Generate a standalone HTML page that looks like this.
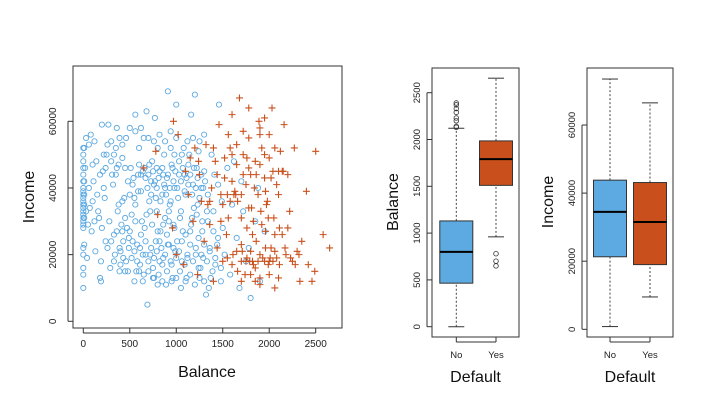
<!DOCTYPE html>
<html><head><meta charset="utf-8"><style>
body{margin:0;background:#fff;}
svg{display:block;font-family:"Liberation Sans",sans-serif;}
</style></head><body>
<svg id="fig" width="704" height="412" viewBox="0 0 704 412"></svg>
<script>
// ---- data ----
const blueBalance=[0,0,0,0,0,0,0,0,0,0,0,0,0,0,0,0,0,0,0,0,0,0,0,0,30,60,80,100,120,150,160,180,190,200,210,220,230,240,250,270,280,300,320,340,360,380,400,420,450,470,480,500,40,70,90,110,130,170,190,260,290,310,330,350,370,390,410,430,440,460,490,520,540,560,580,600,610,620,640,650,660,680,690,700,710,720,740,750,760,770,780,790,800,810,820,830,850,860,870,880,890,900,910,920,930,940,950,960,970,980,990,530,550,570,590,630,670,730,760,790,840,880,920,960,600,660,720,780,820,860,900,940,980,1000,1010,1030,1050,1060,1080,1100,1110,1130,1150,1160,1180,1200,1210,1230,1250,1260,1280,1300,1320,1340,1360,1380,1400,1420,1450,1460,1480,1500,1020,1070,1090,1120,1170,1220,1240,1290,1330,1370,1410,1440,1490,1040,1140,1190,1270,1520,1550,1580,1600,1650,1680,1700,1750,1800,1850,1900,1950,1620,1720,1780,1880,
350,380,420,450,480,510,530,560,590,620,640,670,690,710,730,750,770,790,810,830,850,870,890,910,930,950,970,990,1010,1030,1050,1070,1090,1110,1130,1150,1170,1190,1210,1230,1250,1270,1290,1310,
400,430,460,490,520,550,580,610,640,670,700,730,760,790,820,850,880,910,940,970,1000,1030,1060,1090,1120,1150,1180,1210,1240,1270,1300,1330,1360,1390,1420,1450,1480,
300,330,360,390,420,300,330,360,390,420,200,220,240,260,180,140,120,100,60,50,30,20,10,10,10,10,10,10,
500,560,620,700,760,820,880,940,1000,1060,1120,1180,1240,1300,
500,560,620,680,740,800,860,920,980,1040,1100,1160,1220,1280,1340,1400,
1300,1350,1250,1200,1150,1100,1050,1000,950,900,850,800,750,700,650,600,550,450];
const blueIncome=[10,14,16,20,22,28,29,30,31,32,33,34,35,36,37,38,39,40,42,44,46,48,50,52,55,53,56,47,54,38,33,13,12,59,45,40,37,24,50,59,30,48,41,20,58,35,17,53,46,28,15,38,19,34,27,42,21,31,18,22,16,44,26,52,33,22,29,19,37,55,25,32,43,62,18,47,22,39,12,55,28,63,5,44,36,20,48,16,41,61,24,33,52,14,45,27,38,19,50,31,11,43,69,23,35,57,17,46,29,40,21,24,37,15,44,30,20,42,13,46,22,40,30,13,52,46,33,37,18,44,26,36,50,65,24,44,33,18,52,38,13,47,27,62,41,68,20,35,54,16,30,45,8,38,22,50,33,17,41,65,12,28,37,27,44,19,31,46,25,19,33,13,44,23,36,15,50,34,40,20,46,14,35,25,10,42,18,7,30,12,27,48,33,22,40,
44,47,36,31,42,46,41,35,39,44,45,43,40,47,38,45,42,40,43,36,46,41,38,44,40,47,42,45,40,48,42,46,39,43,41,44,38,46,40,43,37,44,40,42,
21,24,18,22,19,21,23,17,20,24,18,22,19,21,24,17,20,23,18,22,19,21,24,17,20,23,18,22,16,20,23,18,21,15,19,25,16,
54,50,46,55,49,24,18,27,15,27,28,50,46,53,44,48,30,36,40,29,33,46,23,52,38,42,31,35,
58,57,58,55,54,56,54,52,55,50,54,55,51,56,
27,30,26,32,29,27,29,33,28,31,26,29,32,27,30,27,
12,10,13,11,14,12,10,13,12,15,12,11,13,15,14,15,12,15];
const orangeBalance=[650,780,800,960,970,1000,1020,1080,1100,1130,1150,1180,1200,1230,1250,1270,1300,1320,1340,1360,1380,1400,1420,1440,1460,1480,1500,1520,1540,1560,1580,1600,1610,1630,1650,1660,1680,1700,1710,1720,1740,1750,1760,1780,1790,1800,1810,1830,1850,1860,1880,1890,1900,1910,1920,1930,1950,1960,1980,1990,2000,2020,2030,2040,2050,2060,2080,2100,2120,2140,2160,2180,2200,2220,2250,2270,2300,2330,2350,2400,2420,2460,2490,2500,2580,2650,1550,1620,1700,1750,1820,1880,1950,2000,1640,1860,2100,1580,1720,1820,1900,2040,2150,1480,1360,1240,1850,1970,2200,
1550,1600,1650,1700,1760,1800,1850,1900,1960,2010,2060,2110,2170,2230,2280,2320,1600,1660,1720,1780,1840,1900,1960,2020,2080,2140,1500,1560,1440,1700,1780,1830,1920,1990,2060,2110,1600,1650,1760,1950,2000,2060,1400,1520,1700,1800,1900,2000,2100,1780,1900,1950];
const orangeIncome=[46,51,32,28,60,20,56,17,45,38,49,30,52,14,44,36,24,53,35,29,40,12,48,22,59,38,18,43,26,56,36,62,20,39,47,15,67,31,21,50,14,41,28,55,18,44,34,17,48,24,38,60,13,33,52,19,43,27,36,17,56,22,64,45,31,10,19,38,51,26,59,20,44,33,18,52,21,12,24,39,17,12,15,51,26,22,38,38,18,18,18,18,18,18,38,44,45,52,57,26,56,18,45,30,36,48,12,35,28,
19,17,21,23,19,21,16,20,22,19,21,17,22,19,17,20,42,36,44,46,40,47,39,43,41,45,35,31,44,38,34,30,29,31,26,28,50,53,49,50,49,52,52,49,12,14,11,14,13,64,58,61];
const categories=["No","Yes"];
// box stats: [lowWhisker, q1, median, q3, highWhisker]
const balanceBoxNo=[0,465,800,1130,2120];
const balanceBoxYes=[960,1510,1790,1985,2655];
const balanceOutNo=[2130,2140,2200,2230,2290,2330,2370,2390];
const balanceOutYes=[650,700,780];
const incomeBoxNo=[800,21300,34500,43800,73500];
const incomeBoxYes=[9500,19000,31500,43100,66500];
const scatterXTicks=[0,500,1000,1500,2000,2500];
const scatterYTicks=[0,20000,40000,60000];
const balanceTicks=[0,500,1000,1500,2000,2500];
const incomeTicks=[0,20000,40000,60000];

const BLUE="#5DA9E1", ORANGE="#C9501C";
const svg=document.getElementById('fig');
const NS="http://www.w3.org/2000/svg";
function el(tag,attrs,parent){const e=document.createElementNS(NS,tag);for(const k in attrs)e.setAttribute(k,attrs[k]);(parent||svg).appendChild(e);return e;}

// ---- scatter ----
const sx=v=>83.3+v*(232.4/2500);
const sy=v=>321.3-v*(200/60000);
const g1=el('g',{});


const f1=el('rect',{x:73,y:66,width:269,height:262,fill:'none',stroke:'#333','stroke-width':1},g1);


for(let i=0;i<blueBalance.length;i++){
  const c=el('circle',{cx:sx(blueBalance[i]),cy:sy(blueIncome[i]*1000),r:2.6,fill:'none',stroke:BLUE,'stroke-width':0.9},g1);
  
  
}
for(let i=0;i<orangeBalance.length;i++){
  const x=sx(orangeBalance[i]),y=sy(orangeIncome[i]*1000);
  const p=el('path',{d:`M${x-3.5},${y}H${x+3.5}M${x},${y-3.5}V${y+3.5}`,stroke:ORANGE,'stroke-width':1.1},g1);
  
  
}
scatterXTicks.forEach(t=>{
  const x=sx(t);
  el('line',{x1:x,x2:x,y1:328,y2:333,stroke:'#333'},g1);
  const tx=el('text',{x:x,y:347,'font-size':10,'text-anchor':'middle',fill:'#222'},g1);tx.textContent=t;
  
  
});
el('line',{x1:sx(0),x2:sx(2500),y1:333,y2:333,stroke:'#333'},g1);
scatterYTicks.forEach(t=>{
  const y=sy(t);
  el('line',{x1:68,x2:73,y1:y,y2:y,stroke:'#333'},g1);
  const tx=el('text',{x:0,y:0,'font-size':10,'text-anchor':'middle',fill:'#222',transform:`translate(56,${y}) rotate(-90)`},g1);tx.textContent=t;
  
  
});
el('line',{x1:68,x2:68,y1:sy(0),y2:sy(60000),stroke:'#333'},g1);
const xt=el('text',{x:207,y:377,'font-size':16,'text-anchor':'middle',fill:'#111'},g1);xt.textContent='Balance';


const yt=el('text',{x:0,y:0,'font-size':16,'text-anchor':'middle',fill:'#111',transform:'translate(34,197) rotate(-90)'},g1);yt.textContent='Income';



// ---- boxplots ----
function boxplot(opt){
  const g=el('g',{});
  
  
  const fr=el('rect',{x:opt.x0,y:68,width:opt.x1-opt.x0,height:269,fill:'none',stroke:'#333'},g);
  
  
  const sy2=v=>opt.y0-v*opt.k;
  opt.boxes.forEach((b,i)=>{
    const cx=opt.cx[i],w=16.5;
    el('line',{x1:cx,x2:cx,y1:sy2(b[0]),y2:sy2(b[1]),stroke:'#444','stroke-dasharray':'2,2'},g);
    el('line',{x1:cx,x2:cx,y1:sy2(b[3]),y2:sy2(b[4]),stroke:'#444','stroke-dasharray':'2,2'},g);
    el('line',{x1:cx-8,x2:cx+8,y1:sy2(b[0]),y2:sy2(b[0]),stroke:'#333'},g);
    el('line',{x1:cx-8,x2:cx+8,y1:sy2(b[4]),y2:sy2(b[4]),stroke:'#333'},g);
    const r=el('rect',{x:cx-w,y:sy2(b[3]),width:2*w,height:sy2(b[1])-sy2(b[3]),fill:i?ORANGE:BLUE,stroke:'#333'},g);
    
    
    el('line',{x1:cx-w,x2:cx+w,y1:sy2(b[2]),y2:sy2(b[2]),stroke:'#000','stroke-width':2},g);
    (opt.outs[i]||[]).forEach(o=>{
      const c=el('circle',{cx:cx,cy:sy2(o),r:2.3,fill:'none',stroke:'#333','stroke-width':0.8},g);
      
      
    });
    el('line',{x1:cx,x2:cx,y1:337,y2:342,stroke:'#333'},g);
    const tl=el('text',{x:cx,y:358,'font-size':9.5,'text-anchor':'middle',fill:'#222'},g);tl.textContent=categories[i];
    
    
  });
  el('line',{x1:opt.cx[0],x2:opt.cx[1],y1:342,y2:342,stroke:'#333'},g);
  const ax=opt.x0-5;
  opt.ticks.forEach(t=>{
    const y=sy2(t);
    el('line',{x1:ax,x2:opt.x0,y1:y,y2:y,stroke:'#333'},g);
    const tx=el('text',{x:0,y:0,'font-size':9.5,'text-anchor':'middle',fill:'#222',transform:`translate(${ax-7},${y}) rotate(-90)`},g);tx.textContent=t;
    
    
  });
  el('line',{x1:ax,x2:ax,y1:sy2(opt.ticks[0]),y2:sy2(opt.ticks[opt.ticks.length-1]),stroke:'#333'},g);
  const xt=el('text',{x:(opt.x0+opt.x1)/2,y:382,'font-size':16,'text-anchor':'middle',fill:'#111'},g);xt.textContent='Default';
  
  
  const yt=el('text',{x:0,y:0,'font-size':16,'text-anchor':'middle',fill:'#111',transform:`translate(${opt.x0-34},202) rotate(-90)`},g);yt.textContent=opt.ylab;
  
  
}
boxplot({name:'balance-boxplot',x0:432,x1:519,y0:326.7,k:234/2500,cx:[456.3,496],boxes:[balanceBoxNo,balanceBoxYes],outs:[balanceOutNo,balanceOutYes],ticks:balanceTicks,ylab:'Balance'});
boxplot({name:'income-boxplot',x0:587,x1:673,y0:329.3,k:204.3/60000,cx:[610,650],boxes:[incomeBoxNo,incomeBoxYes],outs:[[],[]],ticks:incomeTicks,ylab:'Income'});
</script>
</body></html>
